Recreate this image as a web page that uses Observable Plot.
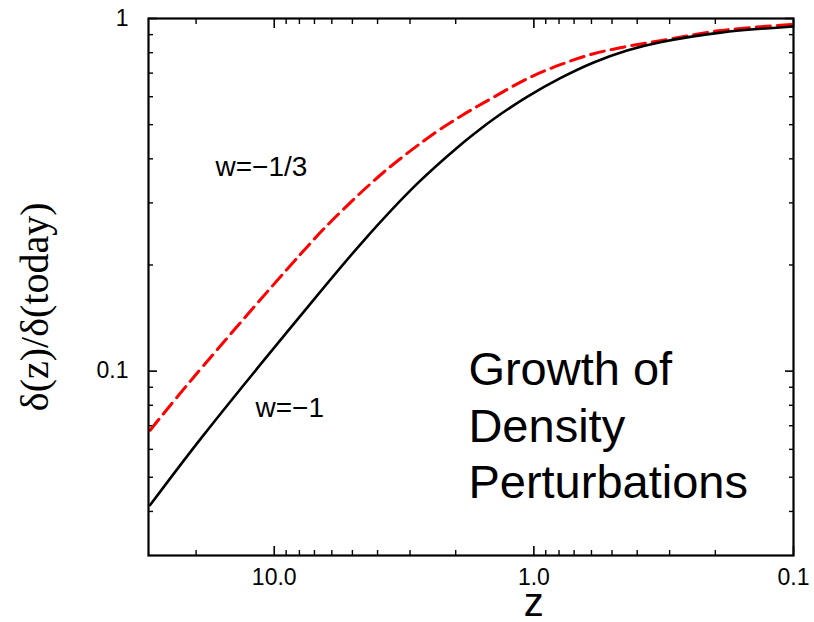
<!DOCTYPE html>
<html>
<head>
<meta charset="utf-8">
<script src="https://cdn.jsdelivr.net/npm/d3@7"></script>
<script src="https://cdn.jsdelivr.net/npm/@observablehq/plot@0.6"></script>
<style>
  html, body { margin: 0; padding: 0; background: #fff; }
  #chart svg { display: block; }
</style>
</head>
<body>
<div id="chart"></div>
<script>
// ---- data ----
const zBlack = [30.06, 18.95, 7.93, 4.52, 2.82, 1.919, 1.607, 1.428, 1.062, 0.791, 0.5886, 0.4377, 0.326, 0.191, 0.1];
const vBlack = [0.0417, 0.0651, 0.1434, 0.2346, 0.3395, 0.4379, 0.4861, 0.519, 0.5993, 0.6771, 0.7503, 0.8115, 0.8566, 0.912, 0.9497];

const zRed = [30.06, 20.7, 7.93, 5.90, 3.79, 2.43, 1.919, 1.654, 1.428, 1.062, 0.791, 0.5886, 0.4377, 0.326, 0.191, 0.1];
const vRed = [0.068, 0.095, 0.2144, 0.2704, 0.3664, 0.4712, 0.5276, 0.5631, 0.5984, 0.6749, 0.7396, 0.7945, 0.8333, 0.865, 0.9246, 0.9628];

const xMajorTicks = [10, 1, 0.1];
const xMajorLabels = ["10.0", "1.0", "0.1"];
const xMinorTicks = [20, 9, 8, 7, 6, 5, 4, 3, 2, 0.9, 0.8, 0.7, 0.6, 0.5, 0.4, 0.3, 0.2];
const yMajorTicks = [1, 0.1];
const yMajorLabels = ["1", "0.1"];
const yMinorTicks = [0.9, 0.8, 0.7, 0.6, 0.5, 0.4, 0.3, 0.2, 0.09, 0.08, 0.07, 0.06, 0.05, 0.04];

const curveLabels = ["w=\u22121/3", "w=\u22121"];
const curveLabelZ = [16.84, 11.81];
const curveLabelV = [0.3573, 0.0739];

const titleText = "Growth of\nDensity\nPerturbations";
const titleZ = [1.787];
const titleV = [0.0436];

const xLabel = "z";
const xLabelZ = [1.0];
const yLabel = "\u03b4(z)/\u03b4(today)";
const yLabelV = [0.1522];

// ---- build tables ----
const black = zBlack.map((z, i) => ({z, v: vBlack[i]}));
const red = zRed.map((z, i) => ({z, v: vRed[i]}));
const labels = curveLabels.map((t, i) => ({t, z: curveLabelZ[i], v: curveLabelV[i]}));
const title = [{t: titleText, z: titleZ[0], v: titleV[0]}];

const sans = "'Liberation Sans', Arial, Helvetica, sans-serif";
const serif = "'Liberation Serif', 'Times New Roman', Times, serif";

const fmtX = d => xMajorLabels[xMajorTicks.indexOf(d)];
const fmtY = d => yMajorLabels[yMajorTicks.indexOf(d)];
const none = () => null;

const tick = (axis, ticks, anchor, size) =>
  axis(ticks, {anchor, tickSize: -size, strokeWidth: size > 6 ? 1.6 : 1.4, tickFormat: none, label: null});

const chart = Plot.plot({
  width: 814,
  height: 622,
  marginLeft: 148,
  marginRight: 21,
  marginTop: 18,
  marginBottom: 67,
  style: {fontFamily: sans, background: "#fff", color: "#000"},
  x: {type: "log", domain: [30.5, 0.1], axis: null},
  y: {type: "log", domain: [0.03, 1], axis: null},
  marks: [
    // inward ticks, all four sides
    tick(Plot.axisX, xMajorTicks, "bottom", 9),
    tick(Plot.axisX, xMinorTicks, "bottom", 5),
    tick(Plot.axisX, xMajorTicks, "top", 9),
    tick(Plot.axisX, xMinorTicks, "top", 5),
    tick(Plot.axisY, yMajorTicks, "left", 9),
    tick(Plot.axisY, yMinorTicks, "left", 5),
    tick(Plot.axisY, yMajorTicks, "right", 9),
    tick(Plot.axisY, yMinorTicks, "right", 5),
    // tick labels
    Plot.axisX(xMajorTicks, {anchor: "bottom", tickSize: 0, tickPadding: 13, fontSize: 23, fill: "#000", tickFormat: fmtX, label: null}),
    Plot.axisY(yMajorTicks, {anchor: "left", tickSize: 0, tickPadding: 20, fontSize: 23, fill: "#000", tickFormat: fmtY, label: null}),
    // curves
    Plot.line(red, {x: "z", y: "v", stroke: "#ff0000", strokeWidth: 3, strokeDasharray: "14,7", curve: "catmull-rom", clip: true}),
    Plot.line(black, {x: "z", y: "v", stroke: "#000", strokeWidth: 2.6, curve: "catmull-rom", clip: true}),
    Plot.frame({stroke: "#000", strokeWidth: 2.2}),
    // annotations
    Plot.text(labels, {x: "z", y: "v", text: "t", textAnchor: "start", lineAnchor: "bottom", fontSize: 28, fill: "#000"}),
    Plot.text(title, {x: "z", y: "v", text: "t", textAnchor: "start", lineAnchor: "bottom", fontSize: 47, lineHeight: 1.2, fill: "#000"}),
    Plot.text([xLabel], {x: xLabelZ, frameAnchor: "bottom", dy: 60, textAnchor: "middle", lineAnchor: "bottom", fontSize: 40, fill: "#000"}),
    Plot.text([yLabel], {y: yLabelV, frameAnchor: "left", dx: -101, rotate: -90, textAnchor: "middle", lineAnchor: "bottom", fontSize: 40, fontFamily: serif, fill: "#000"})
  ]
});
document.getElementById("chart").appendChild(chart);
</script>
</body>
</html>
